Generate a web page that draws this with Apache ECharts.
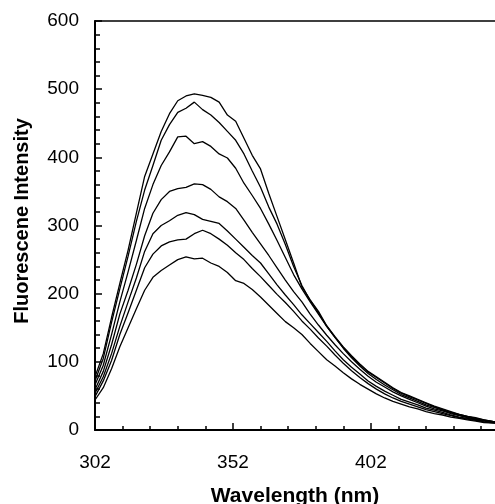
<!DOCTYPE html>
<html>
<head>
<meta charset="utf-8">
<script src="https://cdn.jsdelivr.net/npm/echarts@6/dist/echarts.min.js"></script>
<style>
html,body{margin:0;padding:0;background:#fff;}
#chart{width:495px;height:504px;}
</style>
</head>
<body>
<div id="chart"></div>
<script>
const wavelengths = [302,305,308,311,314,317,320,323,326,329,332,335,338,341,344,347,350,353,356,359,362,365,368,371,374,377,380,383,386,389,392,395,398,401,404,407,410,413,416,419,422,425,428,431,434,437,440,443,447];

const curveA = [78,112,165,215,264,318,372,405,438,464,483,490,493,491,488,481,462,453,428,403,383,347,313,279,245,210,191,174,153,137,122,109,97,86,78,70,62,55,50,45,40,35,31,27,23,20,18,15,12];
const curveB = [72,105,158,207,255,306,352,388,425,448,466,472,481,470,462,451,438,425,405,380,356,327,302,272,240,212,190,172,152,136,121,108,96,85,77,69,61,54,49,44,39,34,30,26,23,20,17,15,12];
const curveC = [66,95,140,188,232,278,325,360,388,408,430,431,420,423,416,405,399,384,362,344,325,302,278,253,228,207,188,170,152,136,120,106,94,83,74,66,59,52,47,42,37,33,29,25,22,19,16,14,12];
const curveD = [59,86,125,170,205,243,285,318,338,350,354,356,361,360,353,342,335,325,308,290,273,256,238,220,203,188,170,154,139,125,112,100,89,79,70,63,56,50,45,40,35,31,28,24,21,18,16,14,11];
const curveE = [54,78,112,152,188,223,262,288,300,307,315,319,316,309,306,303,292,280,268,256,245,229,213,198,184,169,156,143,130,116,103,92,82,72,64,57,51,45,41,37,32,29,26,22,19,17,15,13,11];
const curveF = [49,72,102,140,172,205,238,258,270,276,279,280,288,293,288,280,271,260,250,237,225,212,199,187,174,160,148,135,123,110,98,87,77,68,60,53,47,42,38,34,30,27,24,21,18,16,14,12,10];
const curveG = [44,62,90,122,150,178,205,224,234,242,250,254,251,252,245,240,231,219,215,206,195,183,171,159,150,140,127,115,103,94,84,75,67,60,53,47,42,38,34,31,27,24,22,19,17,15,13,11,10];

const curves = [curveA, curveB, curveC, curveD, curveE, curveF, curveG];

const xMajorTicks = [302, 352, 402];
const xMinorTicks = [312,322,332,342,362,372,382,392,412,422,432,442];
const yTicks = [0,100,200,300,400,500,600];

const xTitle = 'Wavelength (nm)';
const yTitle = 'Fluorescene Intensity';

const FONT = '"Liberation Sans", Arial, sans-serif';

const chart = echarts.init(document.getElementById('chart'), null, {renderer: 'canvas'});

const series = curves.map(function (vals) {
  return {
    type: 'line',
    xAxisIndex: 0,
    yAxisIndex: 0,
    data: wavelengths.map(function (w, i) { return [w, vals[i]]; }),
    showSymbol: false,
    symbol: 'none',
    smooth: false,
    lineStyle: {color: '#000', width: 1.3},
    animation: false
  };
});

chart.setOption({
  animation: false,
  backgroundColor: '#fff',
  grid: {left: 95, right: 0, top: 21, bottom: 74, containLabel: false, outerBoundsMode: 'none'},
  xAxis: [
    {
      type: 'value', position: 'bottom', min: 302, max: 447,
      axisLine: {show: true, onZero: false, lineStyle: {color: '#000', width: 2}},
      axisTick: {show: true, inside: true, length: 7, customValues: xMajorTicks, lineStyle: {color: '#000', width: 1.5}},
      axisLabel: {show: true, customValues: xMajorTicks, margin: 23, color: '#000', fontSize: 19, fontFamily: FONT},
      splitLine: {show: false},
      name: xTitle, nameLocation: 'middle', nameGap: 56,
      nameTextStyle: {color: '#000', fontSize: 21, fontWeight: 'bold', fontFamily: FONT}
    },
    {
      type: 'value', position: 'bottom', min: 302, max: 447,
      axisLine: {show: false},
      axisTick: {show: true, inside: true, length: 4, customValues: xMinorTicks, lineStyle: {color: '#000', width: 1.5}},
      axisLabel: {show: false},
      splitLine: {show: false}
    },
    {
      type: 'value', position: 'top', min: 302, max: 447,
      axisLine: {show: true, onZero: false, lineStyle: {color: '#000', width: 1.5}},
      axisTick: {show: false},
      axisLabel: {show: false},
      splitLine: {show: false}
    }
  ],
  yAxis: [
    {
      type: 'value', min: 0, max: 600, interval: 100,
      axisLine: {show: true, onZero: false, lineStyle: {color: '#000', width: 2}},
      axisTick: {show: true, inside: true, length: 7, lineStyle: {color: '#000', width: 1.5}},
      minorTick: {show: true, splitNumber: 5, length: 5, lineStyle: {color: '#000', width: 1.5}},
      axisLabel: {show: true, margin: 16, color: '#000', fontSize: 19, fontFamily: FONT,
        formatter: function (v) { return yTicks.indexOf(v) >= 0 ? String(v) : ''; }},
      splitLine: {show: false},
      minorSplitLine: {show: false},
      name: yTitle, nameLocation: 'middle', nameGap: 63, nameRotate: 90,
      nameTextStyle: {color: '#000', fontSize: 20, fontWeight: 'bold', fontFamily: FONT, padding: [0, 0, 0, 9]}
    }
  ],
  series: series
});
</script>
</body>
</html>
